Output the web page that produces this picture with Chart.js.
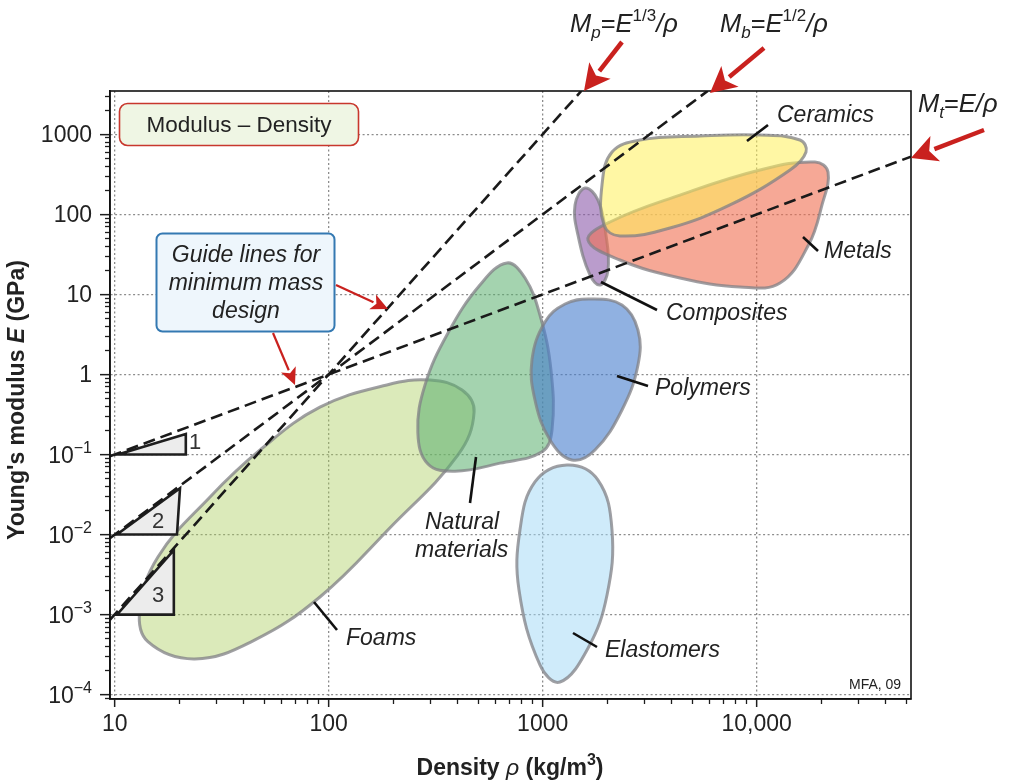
<!DOCTYPE html>
<html>
<head>
<meta charset="utf-8">
<script src="https://cdn.jsdelivr.net/npm/chart.js@4.4.1/dist/chart.umd.min.js"></script>
<style>
  html, body { margin: 0; padding: 0; background: #fff; }
  #wrap { width: 1013px; height: 784px; position: relative; }
</style>
</head>
<body>
<div id="wrap"><canvas id="chart"></canvas></div>
<script>
// axis ranges (density kg/m3, modulus GPa)
const densityRange = [9.51, 52600];
const modulusRange = [8.83e-5, 3475];

const densityTicks = [10, 100, 1000, 10000];
const densityTickLabels = ['10', '100', '1000', '10,000'];
const modulusTicks = [1e-4, 1e-3, 1e-2, 1e-1, 1, 10, 100, 1000];
// [base, exponent]
const modulusTickLabels = [['10', '−4'], ['10', '−3'], ['10', '−2'], ['10', '−1'],
  ['1', ''], ['10', ''], ['100', ''], ['1000', '']];
const minorSteps = [2, 3, 4, 5, 6, 7, 8, 9];

// material envelopes, [density, modulus] around the outline
const foams = [[297, 0.85], [420, 0.64], [478, 0.34], [402, 0.099], [193, 0.0121], [91, 0.00166],
  [45, 0.00048], [23.7, 0.00028], [14.3, 0.00046], [13.1, 0.00114], [15.9, 0.0052], [27.9, 0.0295],
  [47.8, 0.114], [91, 0.39], [187, 0.74]];
const naturalMaterials = [[681, 24.7], [827, 16], [971, 5.53], [1093, 1.14], [1105, 0.2], [992, 0.108],
  [632, 0.078], [389, 0.062], [291, 0.076], [261, 0.19], [282, 0.74], [361, 3.3], [509, 13.1]];
const polymers = [[1663, 8.77], [2347, 7.38], [2788, 3.59], [2788, 1.31], [2347, 0.36], [1755, 0.114],
  [1370, 0.0855], [1082, 0.152], [920, 0.48], [891, 1.52], [1025, 4.52], [1272, 7.59]];
const elastomers = [[1299, 0.074], [1813, 0.048], [2108, 0.0114], [1998, 0.00176], [1628, 0.00038],
  [1204, 0.000144], [971, 0.000235], [775, 0.00203], [783, 0.0114], [920, 0.0454]];
const composites = [[1577, 213], [1813, 151], [1976, 55], [2019, 20], [1853, 13.1], [1663, 17.5],
  [1462, 55], [1416, 131]];
const metals = [[1628, 47.8], [2063, 80.3], [4381, 174], [10360, 358], [18730, 451], [21540, 338],
  [20190, 131], [17500, 42], [12850, 13.9], [8356, 12.4], [4381, 16], [2297, 26.9]];
const ceramics = [[2108, 601], [2849, 849], [5433, 952], [10360, 980], [15930, 849], [17000, 601],
  [14310, 358], [7502, 131], [3934, 67.5], [2297, 53.7], [1934, 73.6], [1893, 233]];

// slope triangles
const slope1 = [[10.36, 0.1], [21.5, 0.1], [21.5, 0.18]];
const slope2 = [[10.25, 0.01], [19.55, 0.01], [20.2, 0.038]];
const slope3 = [[10.25, 0.001], [18.9, 0.001], [18.9, 0.0064]];

// guide lines through (100, 1)
const guideT = [[9.5, 0.095], [52600, 526]];
const guideB = [[9.5, 0.009], [5900, 3480]];
const guideP = [[9.5, 0.00086], [1515, 3480]];

const FONT = '"Liberation Sans", Arial, Helvetica, sans-serif';
const INK = '#222';
const RED = '#c9211e';
const OUTLINE = 'rgba(128,128,134,0.75)';

const pts = arr => arr.map(p => ({x: p[0], y: p[1]}));

function envelope(label, data, color, order) {
  return {
    label: label, data: pts(data), closed: true, fill: 'shape',
    backgroundColor: color, borderColor: OUTLINE, borderWidth: 3,
    tension: 0.4, pointRadius: 0, pointHoverRadius: 0, order: order
  };
}
function triangle(data) {
  return {
    data: pts(data), closed: true, fill: 'shape', backgroundColor: '#ececec',
    borderColor: '#1e1e1e', borderWidth: 2.6, borderJoinStyle: 'miter',
    tension: 0, pointRadius: 0, order: 2
  };
}
function guide(data) {
  return {
    data: pts(data), fill: false, borderColor: '#1a1a1a', borderWidth: 2.6,
    borderDash: [12, 6], tension: 0, pointRadius: 0, order: 1
  };
}

const minorOf = majors => {
  const out = [];
  majors.concat([majors[0] / 10]).forEach(d => minorSteps.forEach(s => out.push(d * s)));
  return out;
};
const densityMinor = minorOf(densityTicks).filter(v => v > densityRange[0] && v < densityRange[1]);
const modulusMinor = minorOf(modulusTicks).filter(v => v > modulusRange[0] && v < modulusRange[1]);

// make envelopes closed smooth loops
const loopPlugin = {
  id: 'loop',
  afterDatasetUpdate(chart, args) {
    const ds = chart.data.datasets[args.index];
    if (ds.closed && args.meta.dataset) {
      args.meta.dataset._loop = true;
      args.meta.dataset._fullLoop = true;
    }
  }
};

function font(style, size) {
  const w = style.indexOf('b') >= 0 ? 'bold ' : '';
  const i = style.indexOf('i') >= 0 ? 'italic ' : '';
  return i + w + size + 'px ' + FONT;
}
// parts: [text, style]; style letters: i italic, b bold, ^ superscript, _ subscript
function rich(ctx, x, y, parts, size, align) {
  const items = parts.map(([t, s]) => {
    const small = s.indexOf('^') >= 0 || s.indexOf('_') >= 0;
    const sz = small ? Math.round(size * 0.68) : size;
    ctx.font = font(s, sz);
    return {t, f: ctx.font, w: ctx.measureText(t).width,
      dy: s.indexOf('^') >= 0 ? -size * 0.42 : (s.indexOf('_') >= 0 ? size * 0.25 : 0)};
  });
  const total = items.reduce((a, b) => a + b.w, 0);
  let cx = align === 'center' ? x - total / 2 : (align === 'right' ? x - total : x);
  ctx.textAlign = 'left';
  ctx.textBaseline = 'alphabetic';
  items.forEach(it => {
    ctx.font = it.f;
    ctx.fillText(it.t, cx, y + it.dy);
    cx += it.w;
  });
}
function roundRect(ctx, x, y, w, h, r, fill, stroke, lw) {
  ctx.beginPath();
  ctx.moveTo(x + r, y);
  ctx.arcTo(x + w, y, x + w, y + h, r);
  ctx.arcTo(x + w, y + h, x, y + h, r);
  ctx.arcTo(x, y + h, x, y, r);
  ctx.arcTo(x, y, x + w, y, r);
  ctx.closePath();
  ctx.fillStyle = fill; ctx.fill();
  ctx.lineWidth = lw; ctx.strokeStyle = stroke; ctx.stroke();
}
function arrow(ctx, x1, y1, x2, y2, lw, hl, hw) {
  const a = Math.atan2(y2 - y1, x2 - x1);
  const bx = x2 - hl * Math.cos(a), by = y2 - hl * Math.sin(a);
  ctx.strokeStyle = RED; ctx.fillStyle = RED; ctx.lineWidth = lw; ctx.lineCap = 'butt';
  ctx.beginPath(); ctx.moveTo(x1, y1); ctx.lineTo(bx + Math.cos(a), by + Math.sin(a)); ctx.stroke();
  ctx.beginPath(); ctx.moveTo(x2, y2);
  ctx.lineTo(bx + hw / 2 * Math.sin(a), by - hw / 2 * Math.cos(a));
  ctx.lineTo(bx + 0.25 * hl * Math.cos(a), by + 0.25 * hl * Math.sin(a));
  ctx.lineTo(bx - hw / 2 * Math.sin(a), by + hw / 2 * Math.cos(a));
  ctx.closePath(); ctx.fill();
}

const annotations = {
  id: 'annotations',
  afterDraw(chart) {
    const ctx = chart.ctx;
    const a = chart.chartArea;
    const yScale = chart.scales.y;
    ctx.save();
    // frame
    ctx.strokeStyle = '#111'; ctx.lineWidth = 1.6;
    ctx.strokeRect(a.left, a.top, a.right - a.left, a.bottom - a.top);

    // modulus tick labels with real superscripts
    ctx.fillStyle = INK;
    modulusTicks.forEach((v, i) => {
      const [base, exp] = modulusTickLabels[i];
      const py = yScale.getPixelForValue(v) + 8;
      const parts = exp ? [[base, ''], [exp, '^']] : [[base, '']];
      rich(ctx, a.left - 18, py, parts, 23, 'right');
    });

    // leader lines
    ctx.strokeStyle = '#111'; ctx.lineWidth = 2.6;
    [[747, 141, 768, 125], [803, 237, 818, 251], [601, 282, 657, 310], [617, 376, 648, 386],
     [476, 457, 470, 503], [314, 602, 337, 630], [573, 633, 597, 647]].forEach(l => {
      ctx.beginPath(); ctx.moveTo(l[0], l[1]); ctx.lineTo(l[2], l[3]); ctx.stroke();
    });

    // material labels
    ctx.fillStyle = INK; ctx.textAlign = 'left'; ctx.textBaseline = 'alphabetic';
    ctx.font = font('i', 23);
    [['Ceramics', 777, 122], ['Metals', 824, 258], ['Composites', 666, 320], ['Polymers', 655, 395],
     ['Natural', 425, 529], ['materials', 415, 557], ['Foams', 346, 645], ['Elastomers', 605, 657]]
      .forEach(t => ctx.fillText(t[0], t[1], t[2]));

    // triangle labels
    ctx.font = font('', 22); ctx.fillStyle = '#333';
    ctx.fillText('1', 189, 449);
    ctx.fillText('2', 152, 528);
    ctx.fillText('3', 152, 602);

    // title box
    roundRect(ctx, 119.5, 103.5, 239, 42, 8, '#eff6e4', '#c8372d', 1.6);
    ctx.fillStyle = INK; ctx.font = font('', 22.5); ctx.textAlign = 'center';
    ctx.fillText('Modulus – Density', 239, 132);

    // guide box
    roundRect(ctx, 156.5, 233.5, 178, 98, 6, '#eef6fc', '#3479b2', 2);
    ctx.fillStyle = INK; ctx.font = font('i', 23); ctx.textAlign = 'center';
    ctx.fillText('Guide lines for', 246, 262);
    ctx.fillText('minimum mass', 246, 290);
    ctx.fillText('design', 246, 318);

    // arrows
    arrow(ctx, 336, 285, 388, 309, 2.2, 17, 16);
    arrow(ctx, 273, 333, 295, 385, 2.2, 17, 16);
    arrow(ctx, 622, 42, 584, 91, 4.5, 26, 27);
    arrow(ctx, 764, 48, 710, 93, 4.5, 26, 27);
    arrow(ctx, 984, 130, 911, 158, 4.5, 26, 27);

    // formulas
    ctx.fillStyle = INK;
    rich(ctx, 570, 32, [['M', 'i'], ['p', 'i_'], ['=', ''], ['E', 'i'], ['1/3', '^'], ['/ρ', 'i']], 25.5);
    rich(ctx, 720, 32, [['M', 'i'], ['b', 'i_'], ['=', ''], ['E', 'i'], ['1/2', '^'], ['/ρ', 'i']], 25.5);
    rich(ctx, 918, 112, [['M', 'i'], ['t', 'i_'], ['=', ''], ['E/ρ', 'i']], 25.5);

    // credit
    ctx.font = font('', 14); ctx.textAlign = 'left'; ctx.fillStyle = INK;
    ctx.fillText('MFA, 09', 849, 689);

    // axis titles
    rich(ctx, 510, 775, [['Density ', 'b'], ['ρ', 'i'], [' (kg/m', 'b'], ['3', 'b^'], [')', 'b']], 23, 'center');
    ctx.translate(24, 400);
    ctx.rotate(-Math.PI / 2);
    rich(ctx, 0, 0, [["Young's modulus ", 'b'], ['E', 'bi'], [' (GPa)', 'b']], 23, 'center');
    ctx.restore();
  }
};

const tickFont = {family: FONT, size: 23};
const gridCommon = {color: '#8c8c8c', lineWidth: 1.3, tickColor: '#1e1e1e', tickWidth: 1.5};

new Chart(document.getElementById('chart'), {
  type: 'line',
  data: {
    datasets: [
      guide(guideT), guide(guideB), guide(guideP),
      triangle(slope1), triangle(slope2), triangle(slope3),
      envelope('Ceramics', ceramics, 'rgba(255,240,90,0.55)', 3),
      envelope('Metals', metals, 'rgba(240,110,80,0.6)', 4),
      envelope('Composites', composites, 'rgba(140,90,170,0.6)', 5),
      envelope('Polymers', polymers, 'rgba(70,125,205,0.6)', 6),
      envelope('Natural materials', naturalMaterials, 'rgba(90,175,110,0.55)', 7),
      envelope('Elastomers', elastomers, 'rgba(160,215,245,0.5)', 8),
      envelope('Foams', foams, 'rgba(170,205,90,0.42)', 9)
    ]
  },
  options: {
    responsive: true,
    maintainAspectRatio: false,
    animation: false,
    events: [],
    layout: {padding: {top: 91, right: 102, left: 0, bottom: 0}, autoPadding: false},
    plugins: {legend: {display: false}, tooltip: {enabled: false}},
    scales: {
      x: {
        type: 'logarithmic', position: 'bottom', min: densityRange[0], max: densityRange[1], weight: 0,
        afterBuildTicks: s => { s.ticks = densityTicks.map(v => ({value: v})); },
        afterFit: s => { s.height = 85; },
        ticks: {callback: (v, i) => densityTickLabels[i], font: tickFont, color: INK, padding: 4,
          autoSkip: false, maxRotation: 0},
        grid: Object.assign({tickLength: 8}, gridCommon),
        border: {display: true, color: '#111', width: 1.6, dash: [2, 2.5]}
      },
      xMinor: {
        type: 'logarithmic', position: 'bottom', min: densityRange[0], max: densityRange[1], weight: -1,
        afterBuildTicks: s => { s.ticks = densityMinor.map(v => ({value: v})); },
        afterFit: s => { s.height = 0; },
        ticks: {display: false, autoSkip: false},
        grid: {drawOnChartArea: false, tickLength: 5, tickColor: '#1e1e1e', tickWidth: 1.3},
        border: {display: false}
      },
      y: {
        type: 'logarithmic', position: 'left', min: modulusRange[0], max: modulusRange[1], weight: 0,
        afterBuildTicks: s => { s.ticks = modulusTicks.map(v => ({value: v})); },
        afterFit: s => { s.width = 110; },
        ticks: {display: false, autoSkip: false},
        grid: Object.assign({tickLength: 10}, gridCommon),
        border: {display: true, color: '#111', width: 1.6, dash: [2, 2.5]}
      },
      yMinor: {
        type: 'logarithmic', position: 'left', min: modulusRange[0], max: modulusRange[1], weight: -1,
        afterBuildTicks: s => { s.ticks = modulusMinor.map(v => ({value: v})); },
        afterFit: s => { s.width = 0; },
        ticks: {display: false, autoSkip: false},
        grid: {drawOnChartArea: false, tickLength: 5, tickColor: '#1e1e1e', tickWidth: 1.3},
        border: {display: false}
      }
    }
  },
  plugins: [loopPlugin, annotations]
});
</script>
</body>
</html>
